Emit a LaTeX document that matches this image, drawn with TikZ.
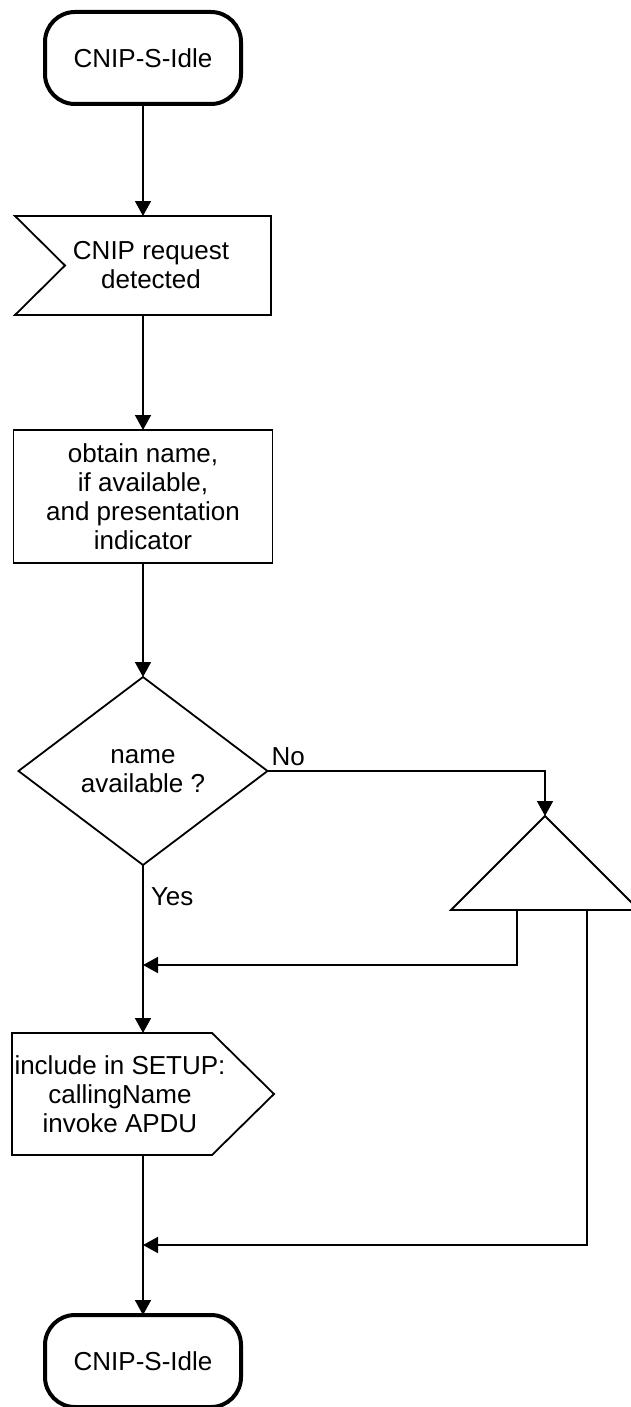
\documentclass[tikz,border=0pt]{standalone}
\usepackage{fontspec}
\setmainfont{Liberation Sans}
\usetikzlibrary{positioning,shapes.geometric,arrows.meta}

\begin{document}
\begin{tikzpicture}
	[x=1pt, y=-1pt, align=center, outer sep=0pt,
	font=\fontsize{26}{29}\selectfont,
	line/.style={line width=1.6pt},
	arr/.style={line, -{Triangle[width=16pt,length=15pt]}},
	border/.style={line width=1.8pt},
	idle/.style={draw, line width=4pt, rounded corners=30pt, minimum width=196pt, minimum height=92pt},
	box/.style={draw, border, minimum width=259pt, minimum height=133pt},
	choice/.style={draw, border, diamond, aspect=1.32, inner sep=0pt, minimum width=249pt, minimum height=188pt},
	frame/.style={inner sep=0pt},
	lab/.style={anchor=base west, inner sep=0pt}]
	\useasboundingbox (0,0) rectangle (631,1407);
	\clip (0,0) rectangle (631,1407);
	% states and boxes
	\node[idle] (idle1) at (143,58) {CNIP-S-Idle};
	\node[frame, minimum width=256pt, minimum height=99pt, below=112pt of idle1] (req) {};
	\node[xshift=8pt] (reqtxt) at (req) {CNIP request\\detected};
	\node[box, below=115pt of req] (proc) {obtain name,\\if available,\\and presentation\\indicator};
	\node[choice, below=114pt of proc] (dec) {name\\available ?};
	\node[frame, minimum width=188pt, minimum height=94pt] (conn) at (545,863) {};
	\node[frame, minimum width=262pt, minimum height=122pt, below=168pt of dec] (out) {};
	\node[xshift=-23pt] (outtxt) at (out) {include in SETUP:\\callingName\\invoke APDU};
	\node[idle, below=160pt of out] (idle2) {CNIP-S-Idle};
	\coordinate (j1) at (143,965);
	\coordinate (j2) at (143,1245);
	% outlines
	\draw[border] (req.north west) -- (req.north east) -- (req.south east) -- (req.south west) -- ([xshift=50pt]req.west) -- cycle;
	\draw[border] (conn.south west) -- (conn.north) -- (conn.south east) -- cycle;
	\draw[border] (out.north west) -- ([xshift=-62pt]out.north east) -- (out.east) -- ([xshift=-62pt]out.south east) -- (out.south west) -- cycle;
	% connectors
	\draw[arr] (idle1.south) -- (req.north);
	\draw[arr] (req.south) -- (proc.north);
	\draw[arr] (proc.south) -- (dec.north);
	\draw[arr] (dec.south) -- (out.north);
	\draw[arr] (out.south) -- (idle2.north);
	\draw[arr] (dec.east) -| (conn.north);
	\draw[arr] ([xshift=-28pt]conn.south) |- (j1);
	\draw[arr] ([xshift=42pt]conn.south) |- (j2);
	\node[lab] (nolab) at ([xshift=4pt,yshift=6pt]dec.east) {No};
	\node[lab] (yeslab) at ([xshift=8pt,yshift=-40pt]dec.south) {Yes};
\end{tikzpicture}
\end{document}
